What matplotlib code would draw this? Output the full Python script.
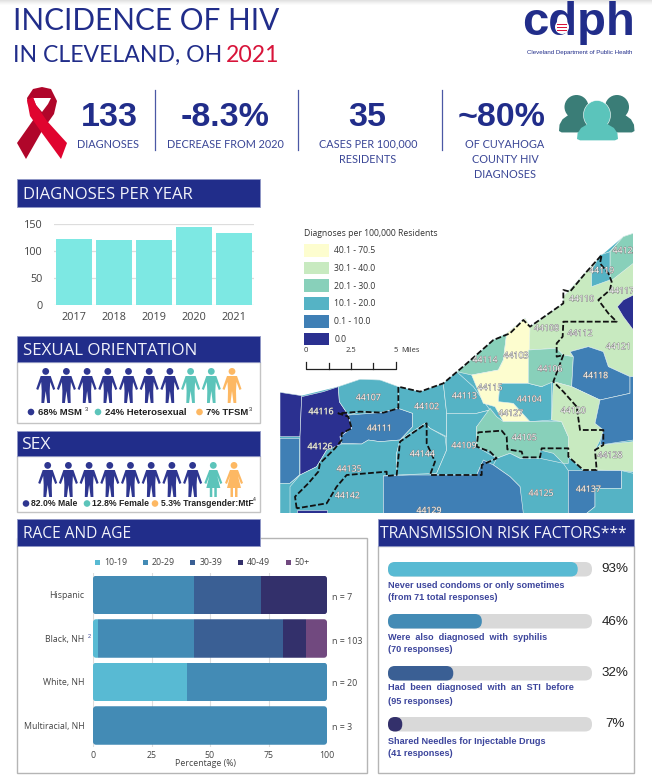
import matplotlib
matplotlib.use('Agg')
import matplotlib.pyplot as plt
import matplotlib.patheffects as pe
from matplotlib.patches import Polygon, Circle, Ellipse, Rectangle, FancyBboxPatch

NAVY = '#212d8a'
TEXT_BLUE = '#2f3a8f'

# ---- data ----
years = ['2017', '2018', '2019', '2020', '2021']
diagnoses = [122, 121, 121, 145, 133]

race_labels = ['Hispanic', 'Black, NH', 'White, NH', 'Multiracial, NH']
race_n = ['n = 7', 'n = 103', 'n = 20', 'n = 3']
age_groups = ['10-19', '20-29', '30-39', '40-49', '50+']
age_10_19 = [0, 2, 40, 0]
age_20_29 = [43, 41, 60, 100]
age_30_39 = [28.6, 38, 0, 0]
age_40_49 = [28.4, 10, 0, 0]
age_50_up = [0, 9, 0, 0]
age_colors = ['#58bad3', '#438bb5', '#3a5f94', '#33306b', '#71497f']

risk_values = [93, 46, 32, 7]
risk_line1 = ['Never used condoms or only sometimes', 'Were  also  diagnosed  with  syphilis',
              'Had  been  diagnosed  with  an  STI  before', 'Shared Needles for Injectable Drugs']
risk_line2 = ['(from 71 total responses)', '(70 responses)', '(95 responses)', '(41 responses)']

orientation_counts = [7, 2, 1]
sex_counts = [8, 1, 1]

rate_classes = ['40.1 - 70.5', '30.1 - 40.0', '20.1 - 30.0', '10.1 - 20.0', '0.1 - 10.0', '0.0']
rate_colors = ['#fdfdcf', '#c8eac0', '#88d0ba', '#55b3c5', '#3f7fb5', '#2b3090']

# land outline, sits under the zip areas so no gaps show
land_outline = [(0,517),(65,527),(175,500),(240,478),(300,480),(355,500),(420,515),(490,490),(555,435),(640,360),
                (680,340),(735,295),(750,320),(850,250),(850,230),(960,110),(1030,50),(1060,40),(1060,880),(0,880)]
# map outlines: (rate class index, outline)
zip_areas = [
    (1, [(745,325),(850,250),(850,230),(960,110),(990,95),(1030,50),(1060,40),(1060,470),(1050,470),(985,440),(970,395),(925,380),(870,395),(880,410),(850,405),(830,385),(745,390)]),
    (2, [(990,95),(1030,50),(1060,40),(1060,130),(990,185)]),
    (3, [(960,105),(990,95),(990,180),(935,200),(935,150)]),
    (5, [(1060,225),(1030,240),(1012,260),(1030,290),(1060,330)]),
    (5, [(0,517),(65,527),(60,650),(0,650)]),
    (5, [(65,530),(130,515),(175,500),(178,545),(205,585),(215,625),(180,650),(185,685),(140,690),(110,740),(60,765),(60,650)]),
    (4, [(0,655),(58,655),(58,765),(30,790),(0,790)]),
    (3, [(0,790),(30,790),(60,765),(60,800),(30,880),(0,880)]),
    (3, [(175,500),(240,478),(300,480),(355,500),(355,565),(300,578),(240,575),(205,585),(178,545)]),
    (4, [(205,585),(300,578),(355,565),(398,580),(398,620),(360,660),(300,665),(265,660),(245,672),(185,670),(180,650),(215,625)]),
    (3, [(185,672),(245,672),(265,660),(300,665),(360,660),(350,700),(350,765),(310,768),(310,880),(30,880),(30,800),(60,765),(110,740),(140,690)]),
    (3, [(355,500),(420,515),(490,490),(500,580),(500,650),(450,625),(435,610),(360,660),(398,620),(398,580),(355,565)]),
    (3, [(360,660),(435,610),(450,625),(495,650),(500,690),(470,760),(350,765),(350,700)]),
    (3, [(490,490),(530,455),(580,500),(630,570),(590,580),(500,580)]),
    (3, [(500,580),(590,580),(630,570),(640,590),(590,620),(590,680),(650,715),(605,730),(590,765),(450,765),(470,760),(500,690),(500,650)]),
    (2, [(530,455),(555,435),(640,360),(680,340),(670,420),(655,450),(575,465)]),
    (0, [(680,340),(735,295),(750,320),(745,490),(660,490),(655,540),(700,550),(750,605),(670,605),(645,560),(610,550),(575,465),(655,450),(670,420)]),
    (3, [(660,490),(745,490),(785,500),(815,480),(815,600),(750,605),(700,550),(655,545)]),
    (2, [(630,565),(650,590),(670,605),(845,605),(865,650),(865,730),(850,730),(820,700),(780,690),(780,715),(720,715),(690,700),(650,715),(630,695),(590,680),(590,620)]),
    (2, [(745,390),(830,385),(850,405),(880,410),(875,500),(820,485),(785,500),(745,490)]),
    (4, [(870,395),(925,380),(970,395),(985,440),(1050,470),(1050,520),(960,540),(875,500),(880,410)]),
    (1, [(820,485),(875,500),(960,540),(945,610),(970,630),(960,660),(945,690),(950,750),(910,750),(865,710),(865,650),(845,605),(815,600)]),
    (1, [(945,690),(960,675),(1060,665),(1060,755),(1025,752),(950,750)]),
    (4, [(960,540),(1050,520),(1050,470),(1060,470),(1060,660),(960,675),(970,630),(945,610)]),
    (3, [(650,715),(690,700),(720,715),(780,715),(850,730),(865,752),(865,880),(720,880),(720,800),(690,770),(640,735)]),
    (4, [(310,768),(390,765),(480,765),(590,765),(610,720),(640,735),(690,770),(720,800),(730,880),(310,880)]),
    (4, [(865,752),(1025,752),(1025,805),(945,805),(945,860),(920,880),(865,880)]),
    (3, [(945,860),(945,805),(1025,805),(1025,752),(1060,760),(1060,880),(920,880)]),
    (5, [(50,870),(140,870),(140,880),(50,880)]),
]
city_line = [(50,865),(45,830),(85,790),(115,755),(120,730),(165,685),(185,660),(185,640),(215,625),(205,590),
             (175,580),(240,575),(310,578),(355,565),(355,500),(420,515),(490,490),(555,435),(640,360),(690,340),
             (730,300),(750,320),(850,250),(850,210),(870,215),(920,155),(965,105),(960,130),(985,160),(995,185),
             (990,210),(955,240),(985,280),(1010,305),(850,305),(848,350),(830,370),(830,410),(850,405),(820,485),
             (850,515),(890,560),(900,630),(970,630),(970,675),(945,690),(950,750),(910,750),(865,710),(865,685),
             (785,685),(780,712),(730,712),(725,695),(682,688),(680,650),(665,632),(595,637),(590,680),(630,695),
             (650,715),(605,735),(605,765),(450,765),(465,725),(440,670),(440,610),(360,665),(350,765),(320,768),
             (320,755),(200,765),(170,800),(140,850),(50,865)]
zip_labels = [('44123',1035,92),('44119',965,152),('44110',905,237),('44117',1025,213),('44108',800,325),
              ('44112',900,340),('44121',1015,380),('44114',615,420),('44103',708,407),('44106',810,447),
              ('44118',947,467),('44115',630,503),('44113',553,528),('44104',748,538),('44107',265,533),
              ('44102',440,560),('44116',123,575),('44127',692,580),('44120',880,572),('44111',298,625),
              ('44105',733,653),('44109',552,677),('44126',120,680),('44144',427,702),('44128',990,706),
              ('44135',207,747),('44142',202,827),('44125',783,820),('44137',925,808),('44129',447,872)]

male_shape = [(-5,8),(5,8),(9.5,21),(7.5,22),(4.5,14),(4,23),(4.3,35),(1.5,35),(0,23),(-1.5,35),(-4.3,35),(-4,23),(-4.5,14),(-7.5,22),(-9.5,21)]
female_shape = [(-4,8),(4,8),(9,21),(7,22),(4,14),(7,26),(3.5,26),(3.5,35),(1,35),(1,26),(-1,26),(-1,35),(-3.5,35),(-3.5,26),(-7,26),(-4,14),(-7,22),(-9,21)]
dome_shape = [(-1,0),(-0.97,-0.35),(-0.8,-0.65),(-0.45,-0.9),(0.45,-0.9),(0.8,-0.65),(0.97,-0.35),(1,0),(0.85,0.08),(-0.85,0.08)]

fig = plt.figure(figsize=(6.52, 7.79), dpi=100, facecolor='white')

# page axes in pixels, y down
pax = fig.add_axes([0, 0, 1, 1])
pax.set_xlim(0, 652)
pax.set_ylim(779, 0)
pax.axis('off')


def txt(x, y, s, size, color=TEXT_BLUE, ha='left', va='center', family='Lato', **kw):
    return pax.text(x, y, s, fontsize=size, color=color, ha=ha, va=va,
                    family=[family, 'DejaVu Sans'], **kw)


def rect(x0, y0, x1, y1, **kw):
    pax.add_patch(Rectangle((x0, y0), x1 - x0, y1 - y0, **kw))


def band(x0, y0, x1, y1, label, size=11.6, tx=None):
    rect(x0, y0, x1, y1, facecolor=NAVY, edgecolor='#8f97c6', lw=0.6, zorder=4)
    txt(tx if tx else x0 + 6, (y0 + y1) / 2 + 1.6, label, size, color='#f2f3fa', zorder=5, family='Open Sans')


def person(cx, top, color, shape):
    pax.add_patch(Circle((cx, top + 3.4), 3.4, color=color, lw=0))
    pax.add_patch(Polygon([(cx + a, top + b) for a, b in shape], closed=True, color=color, lw=0))


def dome(cx, bottom, half_w, h, color, z):
    pts = [(cx + a * half_w, bottom + b * h) for a, b in dome_shape]
    pax.add_patch(Polygon(pts, closed=True, color=color, lw=0, zorder=z))


# soft shadow along the top edge
for i, g in enumerate(['#e2e2e2', '#e9e9e9', '#f0f0f0', '#f6f6f6', '#fbfbfb']):
    rect(0, i, 652, i + 1, facecolor=g, lw=0)

# ---- heading ----
txt(13, 21, 'INCIDENCE OF HIV', 21.4, color=NAVY, family='Lato')
txt(13, 55, 'IN CLEVELAND, OH', 16.6, color=NAVY, family='Lato')
txt(226, 55, '2021', 16.6, color='#d8143a', family='Lato')

txt(578, 23, 'cdph', 34, color=NAVY, ha='center', family='Liberation Sans', weight='bold')
pax.add_patch(Circle((562, 27), 7, facecolor='white', lw=0, zorder=3))
for dy in [-3, 0, 3]:
    rect(557, 27 + dy, 567, 28.4 + dy, facecolor='#d8143a', lw=0, zorder=4)
txt(579.5, 52, 'Cleveland Department of Public Health', 4.4, color=NAVY, ha='center', family='Liberation Sans')

# ribbon
pax.add_patch(Polygon([(42,87),(51,89),(57,101),(54,114),(42,131),(26,159),(17,143),(36,116),(28,105),(27,98),(33,89)],
                      closed=True, color='#b0062a', lw=0))
pax.add_patch(Polygon([(33,98),(51,98),(48,104),(42,112),(36,105)], closed=True, color='white', lw=0))
pax.add_patch(Polygon([(27,100),(33,97),(36,105),(47,121),(67,143),(61,159),(42,133),(30,116)],
                      closed=True, color='#e0042f', lw=0))

# people icon
for cx in [576.5, 617]:
    pax.add_patch(Ellipse((cx, 107), 24, 24, color='#3a7d77', lw=0))
    dome(cx, 131, 17.5, 18, '#3a7d77', 2)
pax.add_patch(Ellipse((597, 115), 27, 29, facecolor='#5bc4bb', edgecolor='white', lw=0.4, zorder=3))
dome(597.5, 139, 20.5, 17, '#5bc4bb', 3)

# ---- headline numbers ----
for x, s in [(109, '133'), (225, '-8.3%'), (367, '35'), (502, '~80%')]:
    txt(x, 117, s, 24.5, color=NAVY, ha='center', weight='bold', family='Liberation Sans')
for x in [155, 298, 442]:
    pax.plot([x, x], [90, 150], color='#4b58a5', lw=0.9)
for x, y, s in [(108, 144, 'DIAGNOSES'), (225, 144, 'DECREASE FROM 2020'), (368, 144, 'CASES PER 100,000'),
                (368, 159, 'RESIDENTS'), (505, 144, 'OF CUYAHOGA'), (505, 159, 'COUNTY HIV'), (505, 174, 'DIAGNOSES')]:
    txt(x, y, s, 7.8, color='#3a4696', ha='center')

# ---- diagnoses per year ----
band(17, 179, 260, 207, 'DIAGNOSES PER YEAR', size=12)
ax = fig.add_axes([54 / 652, 1 - 305 / 779, 200 / 652, 81 / 779])
ax.patch.set_alpha(0)
ax.bar(years, diagnoses, width=0.91, color='#7de8e3', zorder=3)
ax.set_ylim(0, 150)
ax.set_xlim(-0.5, 4.5)
ax.set_yticks([0, 50, 100, 150])
ax.grid(axis='y', color='#dddddd', lw=0.9)
ax.set_axisbelow(True)
for s in ax.spines.values():
    s.set_visible(False)
ax.tick_params(length=0, labelsize=7.8, labelcolor='#444444', pad=8)
ax.tick_params(axis='x', pad=5)
for lab in ax.get_xticklabels() + ax.get_yticklabels():
    lab.set_family('Open Sans')

# ---- pictograms ----
rect(17, 362, 260, 423, facecolor='white', edgecolor='#c4c4c4', lw=1)
band(17, 336, 260, 362, 'SEXUAL ORIENTATION', size=12.2, tx=23)
row_colors = ['#2e3690'] * orientation_counts[0] + ['#5cc4ba'] * orientation_counts[1] + ['#fdb863'] * orientation_counts[2]
for i, col in enumerate(row_colors):
    person(45.7 + i * 20.7, 368, col, male_shape)
for x, c, tx, s in [(31, '#2e3690', 38, '68% MSM'), (98, '#5cc4ba', 105, '24% Heterosexual'), (199.5, '#fdb863', 206, '7% TFSM')]:
    pax.add_patch(Circle((x, 412), 3.3, color=c, lw=0))
    txt(tx, 412.5, s, 6.8, color='#222222', weight='bold', family='Liberation Sans')
txt(84.5, 409, '3', 4, color='#222222', family='Liberation Sans')
txt(249, 409, '3', 4, color='#222222', family='Liberation Sans')

rect(17, 456, 260, 512, facecolor='white', edgecolor='#c4c4c4', lw=1)
band(17, 431, 260, 456, 'SEX', size=12.6, tx=21)
row_colors = ['#2e3690'] * sex_counts[0] + ['#5cc4ba'] * sex_counts[1] + ['#fdb863'] * sex_counts[2]
for i, col in enumerate(row_colors):
    person(47.7 + i * 20.7, 462, col, male_shape if i < sex_counts[0] else female_shape)
for x, c, tx, s in [(26, '#2e3690', 31, '82.0% Male'), (87, '#5cc4ba', 92, '12.8% Female'), (155, '#fdb863', 161, '5.3% Transgender:MtF')]:
    pax.add_patch(Circle((x, 503.5), 3.3, color=c, lw=0))
    txt(tx, 503.5, s, 6.2, color='#222222', weight='bold', family='Liberation Sans')
txt(253, 499.5, '4', 3.6, color='#222222', family='Liberation Sans')

# ---- race and age ----
rect(17, 538, 367, 773, facecolor='white', edgecolor='#b5b5b5', lw=1)
band(17, 519, 260, 546, 'RACE AND AGE', size=11.2, tx=23)
for i, (g, c) in enumerate(zip(age_groups, age_colors)):
    rect(95 + i * 47.7, 560, 100 + i * 47.7, 565, facecolor=c, lw=0)
    txt(104 + i * 47.7, 562.5, g, 6.3, color='#444444', family='Open Sans')

rax = fig.add_axes([93 / 652, 1 - 747.25 / 779, 234 / 652, 174 / 779])
rax.patch.set_alpha(0)
left = [0, 0, 0, 0]
for vals, c in zip([age_10_19, age_20_29, age_30_39, age_40_49, age_50_up], age_colors):
    bars = rax.barh(range(4), vals, left=left, height=0.885, color=c, zorder=3)
    for row, b in enumerate(bars):
        clip = FancyBboxPatch((0, row - 0.4425), 100, 0.885, boxstyle='round,pad=0,rounding_size=1.3',
                              mutation_aspect=0.053, transform=rax.transData)
        b.set_clip_path(clip)
    left = [a + v for a, v in zip(left, vals)]
rax.set_xlim(0, 100)
rax.set_ylim(3.5, -0.5)
rax.set_xticks([0, 25, 50, 75, 100])
rax.set_yticks(range(4))
rax.set_yticklabels(race_labels)
rax.grid(axis='x', color='#dddddd', lw=0.8)
rax.set_axisbelow(True)
for s in rax.spines.values():
    s.set_visible(False)
rax.tick_params(length=0, labelsize=6.3, labelcolor='#444444')
rax.tick_params(axis='y', pad=6)
rax.tick_params(axis='x', pad=3)
for lab in rax.get_xticklabels() + rax.get_yticklabels():
    lab.set_family('Open Sans')
rax.set_xlabel('Percentage (%)', fontsize=6.3, color='#444444', family='Open Sans')
rax.xaxis.set_label_coords(0.48, -0.07)
txt(88, 636, '2', 4, color='#3a4696', family='Liberation Sans')
for y, s in zip([598, 642, 684, 728], race_n):
    txt(332, y, s, 6.4, color='#444444', family='Open Sans')

# ---- transmission risk factors ----
rect(377.5, 546, 633.5, 773, facecolor='white', edgecolor='#b5b5b5', lw=1)
band(378, 519, 634, 546, 'TRANSMISSION RISK FACTORS***', size=11.35, tx=380)
risk_tops = [562, 614, 666, 717]
risk_text_y = [(586, 598), (638, 650), (688, 701), (741, 753)]
risk_pct_y = [569, 622, 673, 724]
for v, c, top, ty, py, a, b in zip(risk_values, age_colors, risk_tops, risk_text_y, risk_pct_y, risk_line1, risk_line2):
    pax.add_patch(FancyBboxPatch((388, top), 204, 14.5, boxstyle='round,pad=0,rounding_size=7', facecolor='#d9d9d9', lw=0))
    pax.add_patch(FancyBboxPatch((388, top), 204 * v / 100, 14.5, boxstyle='round,pad=0,rounding_size=7', facecolor=c, lw=0))
    txt(388.5, ty[0], a, 6.6, weight='bold', family='Liberation Sans', color='#3c459c')
    txt(388.5, ty[1], b, 6.6, weight='bold', family='Liberation Sans', color='#3c459c')
    txt(615, py, f'{v}%', 9.6, color='#222222', ha='center', family='Liberation Sans')

# ---- map ----
max_ = fig.add_axes([280 / 652, 1 - (220 + 880 / 3) / 779, (1060 / 3) / 652, (880 / 3) / 779])
max_.set_xlim(0, 1060)
max_.set_ylim(880, 0)
max_.axis('off')
max_.add_patch(Polygon(land_outline, closed=True, facecolor=rate_colors[3], lw=0, zorder=1))
for cls, pts in zip([a[0] for a in zip_areas], [a[1] for a in zip_areas]):
    max_.add_patch(Polygon(pts, closed=True, facecolor=rate_colors[cls], edgecolor='#e8f2f2', lw=0.4, zorder=2))
max_.plot([p[0] for p in city_line], [p[1] for p in city_line], color='#111111', lw=1.3,
          ls=(0, (3.2, 1.3)), zorder=3)
for s, x, y in zip_labels:
    max_.text(x, y, s, fontsize=6.3, color='white', ha='center', va='center', family='Open Sans', zorder=4,
              clip_on=True, path_effects=[pe.withStroke(linewidth=0.6, foreground='#777777')])

# map legend
max_.text(72, 40, 'Diagnoses per 100,000 Residents', fontsize=6.2, color='#333333', va='center', family='Open Sans')
for i, (lab, c) in enumerate(zip(rate_classes, rate_colors)):
    y0 = 72 + i * 53.2
    max_.add_patch(Rectangle((72, y0), 75, 38, facecolor=c, lw=0))
    max_.text(163, y0 + 20, lab, fontsize=6.2, color='#333333', va='center', family='Open Sans')
max_.plot([78, 78, 347, 347], [425, 447, 447, 425], color='#222222', lw=0.9)
for x in [146, 213, 280]:
    max_.plot([x, x], [430, 447], color='#222222', lw=0.9)
for x, s in [(78, '0'), (212, '2.5'), (347, '5')]:
    max_.text(x, 393, s, fontsize=5.5, color='#333333', ha='center', va='center', family='Open Sans')
max_.text(365, 393, 'Miles', fontsize=5.5, color='#333333', va='center', family='Open Sans')

fig.savefig('out.png', dpi=100)
